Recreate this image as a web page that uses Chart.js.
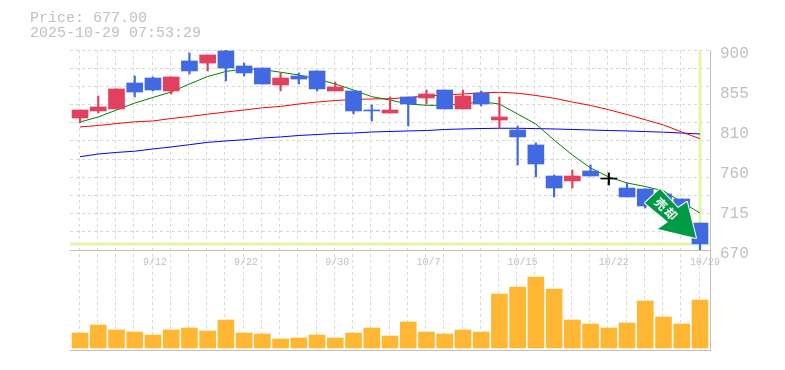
<!DOCTYPE html>
<html>
<head>
<meta charset="utf-8">
<script src="https://cdn.jsdelivr.net/npm/chart.js@4"></script>
<style>
    body { margin: 0; background: #fff; }
    #wrap { position: relative; width: 785px; height: 370px; }
    #head { position: absolute; left: 30px; top: 11px; font: 15px/15px "Liberation Mono", monospace; color: #c0c0c0; white-space: pre; }
    canvas { display: block; }
</style>
</head>
<body>
<div id="wrap">
    <div id="head">Price: 677.00
2025-10-29 07:53:29</div>
    <canvas id="myChart" width="785" height="370"></canvas>
</div>
<script>
const open  = [821.8,829.9,832.2,862.1,867.8,852.9,887.4,885,898.9,881.6,879.3,859.8,870.1,875.9,852.9,852.9,831,827.5,846,844.8,854,832.2,850.6,819.5,808,790.8,755.1,749.4,760.9,751.6,741.3,740.2,734.4,728.7,701]
const close = [831,834.5,855.2,851.7,854,869,875.9,894.3,879.3,873.6,860.9,867.8,866.6,855.2,857.5,829.9,829.9,831,837.9,849.4,832.2,847.1,837.9,823,800,768.9,741.3,755.1,755.1,751.6,731,720.6,713.7,704,677]
const high  = [831,847.1,855.2,870.1,869,869,896.6,894.3,900,885,879.3,873.6,873.6,875.9,863.2,852.9,836.8,846,846,854,854,854,852.9,846,812.6,793.1,756.3,762,767.8,758.6,747.1,740.2,734.4,728.7,701]
const low   = [816.4,827.5,832.2,846,852.9,849.4,872.4,875.9,864.4,870.1,860.9,852.9,860.9,852.9,852.9,826.4,818.4,827.5,812.6,837.9,832.2,832.2,835.6,810.3,767.8,754,731,741.3,755.1,744.8,731,718.3,713.7,704,670]

const maShort = [817.2,823,831,839,845.4,851.7,860.9,869.5,875.3,878.2,877.6,874.4,871.3,866.6,860.9,854,846.3,842.5,837.9,836.4,836.4,837.9,840.5,837.9,826.4,814.9,796.5,779.3,764.3,754,747.1,743,737.9,725.2,712.5]
const maMid   = [811.5,813.2,815.4,817.4,818.4,821.2,823.5,826.2,828.7,831,833.5,835.1,837.9,840.2,841.9,843.1,843.7,844,845.4,847.1,848.3,849.4,850.6,851.4,850.3,847.7,844.5,840.2,836.2,831.3,825.8,819.8,813.8,805.7,798]
const maLong  = [777.3,780.4,782.2,783.6,786.2,788.5,791.1,793.8,795.4,796.8,798.8,800,801.7,802.8,804,804.5,805.7,806.3,806.9,807.4,808.6,809.2,809.7,810,810,809.6,809.2,808.6,808,807.4,806.9,806.2,805.5,804.5,803.4]

const volume = [15,23,18,16,13,18,20,17,28,15,14,9,10,13,10,15,20,12,26,16,14,18,16,54,61,71,59,28,24,20,25,47,31,24,48]

const lastPrice = 677
const dateLabels = { 4: '9/12', 9: '9/22', 14: '9/30', 19: '10/7', 24: '10/15', 29: '10/22', 34: '10/29' }
const priceTicks = [670, 716, 762, 808, 854, 900]
const priceLabels = ['670', '715', '760', '810', '855', '900']

const GRAY = '#c0c0c0'
const GRID = '#d8d8d8'
const GUIDE = '#e2f5a9'
const xMin = -0.55
const xMax = 34.55
const indexes = volume.map((v, i) => i)

function candleColor(i) {
    if (close[i] > open[i]) return '#e2405f'
    if (close[i] < open[i]) return '#4169e1'
    return '#000000'
}

function maLine(values, color) {
    return {
        type: 'line',
        data: indexes.map(i => ({ x: i, y: values[i] })),
        borderColor: color,
        borderWidth: 1,
        pointRadius: 0,
        tension: 0,
        order: 3
    }
}

// the sell badge hangs off the last close
const badge = {
    id: 'badge',
    afterDatasetsDraw(chart) {
        const c = chart.ctx
        const tipX = chart.scales.x.getPixelForValue(34) - 4
        const tipY = chart.scales.y.getPixelForValue(lastPrice) - 6
        const shape = [[-36,-49],[-51,-35],[-28,-16],[-38,-9],[0,0],[-9,-36],[-18,-30]]
        c.save()
        c.beginPath()
        shape.forEach(p => c.lineTo(tipX + p[0], tipY + p[1]))
        c.closePath()
        c.fillStyle = '#009944'
        c.strokeStyle = '#ffffff'
        c.lineWidth = 2
        c.lineJoin = 'round'
        c.stroke()
        c.fill()
        c.translate(tipX - 30, tipY - 29)
        c.rotate(Math.PI / 4)
        c.fillStyle = '#ffffff'
        c.font = 'bold 12px "Noto Sans CJK JP"'
        c.textAlign = 'center'
        c.textBaseline = 'middle'
        c.fillText('売', -7, 0)
        c.fillText('却', 7, 0)
        c.restore()
    }
}

const ctx = document.getElementById('myChart').getContext('2d')
const chart = new Chart(ctx, {
    data: {
        datasets: [
            {
                type: 'bar',
                data: indexes.map(i => ({ x: i, y: [open[i], close[i]] })),
                backgroundColor: indexes.map(candleColor),
                barThickness: 16,
                minBarLength: 1,
                grouped: false,
                order: 1
            },
            {
                type: 'bar',
                data: indexes.map(i => ({ x: i, y: [low[i], high[i]] })),
                backgroundColor: indexes.map(candleColor),
                barThickness: 1.5,
                grouped: false,
                order: 2
            },
            maLine(maShort, '#008000'),
            maLine(maMid, '#ff0000'),
            maLine(maLong, '#0000ff'),
            {
                type: 'line',
                data: [{ x: xMin, y: lastPrice }, { x: xMax, y: lastPrice }],
                borderColor: GUIDE,
                borderWidth: 3,
                pointRadius: 0,
                order: 4
            },
            {
                type: 'line',
                data: [{ x: 34, y: priceTicks[0] }, { x: 34, y: priceTicks[5] }],
                borderColor: GUIDE,
                borderWidth: 3,
                pointRadius: 0,
                order: 4
            },
            {
                type: 'bar',
                yAxisID: 'vol',
                data: indexes.map(i => ({ x: i, y: volume[i] })),
                backgroundColor: '#ffb733',
                barThickness: 16,
                grouped: false,
                order: 1
            }
        ]
    },
    options: {
        responsive: false,
        animation: false,
        events: [],
        layout: { padding: { left: 70, top: 50, bottom: 20, right: 0 } },
        plugins: { legend: { display: false }, tooltip: { enabled: false } },
        scales: {
            x: {
                type: 'linear',
                offset: false,
                min: xMin,
                max: xMax,
                position: { y: 670 },
                afterBuildTicks: axis => {
                    axis.ticks = indexes.concat(35).map(i => ({ value: i + xMin }))
                },
                grid: { color: GRID, drawTicks: false },
                border: { color: GRAY, dash: [3, 3], dashOffset: 0 },
                ticks: {
                    autoSkip: false,
                    maxRotation: 0,
                    align: 'start',
                    padding: 6,
                    color: GRAY,
                    font: { family: '"Liberation Mono"', size: 10 },
                    callback: value => dateLabels[Math.round(value - xMin)] || ''
                }
            },
            xBase: {
                axis: 'x',
                type: 'linear',
                offset: false,
                min: xMin,
                max: xMax,
                position: 'bottom',
                afterFit: axis => { axis.height = 0 },
                grid: { display: false },
                border: { color: GRAY, width: 1 },
                ticks: { display: false }
            },
            y: {
                type: 'linear',
                position: 'right',
                stack: 'panels',
                stackWeight: 2,
                min: 670,
                max: 900,
                afterFit: axis => { axis.width = 75 },
                afterBuildTicks: axis => {
                    const step = 230 / 11
                    const gridTicks = Array.from({ length: 12 }, (v, i) => ({ value: 670 + i * step }))
                    const labelTicks = priceTicks.slice(1, 5).map(v => ({ value: v }))
                    axis.ticks = gridTicks.concat(labelTicks)
                },
                grid: {
                    drawTicks: false,
                    color: c => priceTicks.slice(1, 5).includes(c.tick.value) ? 'transparent' : GRID
                },
                border: { color: GRAY, width: 1, dash: [3, 3] },
                ticks: {
                    autoSkip: false,
                    padding: 10,
                    labelOffset: 4,
                    color: GRAY,
                    font: { family: '"Liberation Mono"', size: 16 },
                    callback: value => {
                        const at = priceTicks.findIndex(p => Math.abs(p - value) < 0.01)
                        return at < 0 ? '' : priceLabels[at]
                    }
                }
            },
            vol: {
                axis: 'y',
                type: 'linear',
                position: 'right',
                stack: 'panels',
                stackWeight: 1,
                min: -2,
                max: 98,
                afterFit: axis => { axis.width = 75 },
                grid: { display: false },
                border: { color: GRAY, width: 1 },
                ticks: { display: false }
            }
        }
    },
    plugins: [badge]
})
</script>
</body>
</html>
